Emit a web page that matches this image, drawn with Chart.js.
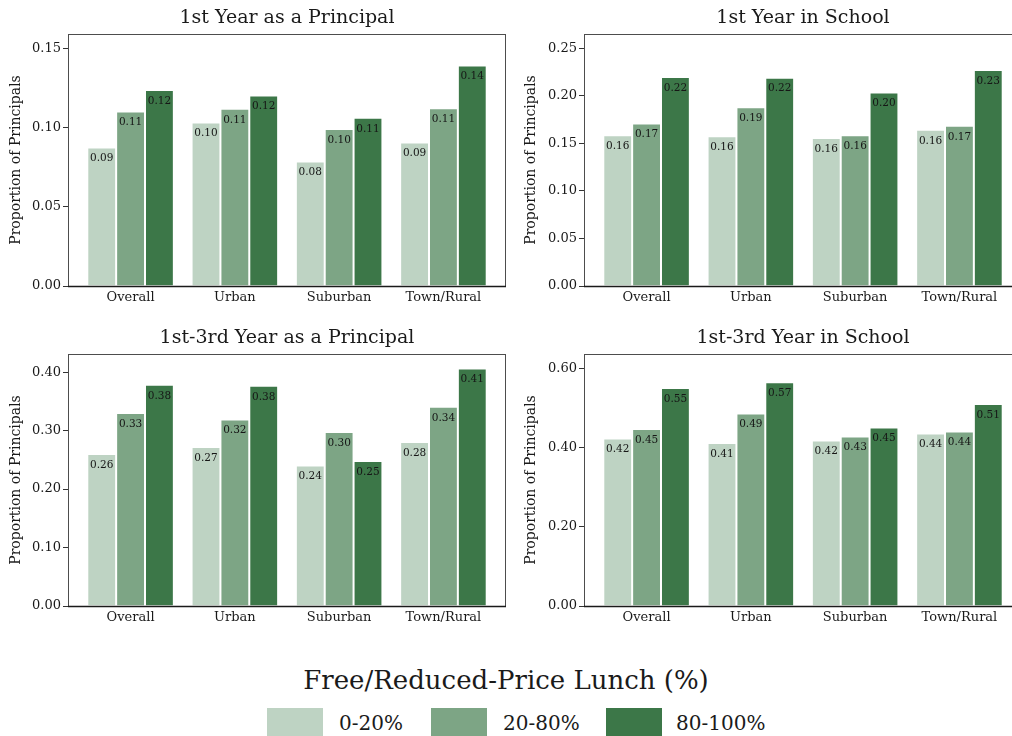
<!DOCTYPE html>
<html>
<head>
<meta charset="utf-8">
<script src="https://cdn.jsdelivr.net/npm/chart.js@4/dist/chart.umd.min.js"></script>
<style>
  html, body { margin: 0; padding: 0; background: #ffffff; }
  body { width: 1012px; height: 736px; overflow: hidden; position: relative;
         font-family: "DejaVu Serif", serif; color: #1a1a1a; }
  canvas { position: absolute; }
  #legendTitle { position: absolute; left: 0; top: 667px; width: 1012px; text-align: center;
                 font-size: 26px; line-height: 26px; white-space: nowrap; }
  .swatch { position: absolute; top: 708px; width: 56px; height: 30px; }
  .swatchLabel { position: absolute; top: 713px; font-size: 20px; line-height: 20px; white-space: nowrap; }
</style>
</head>
<body>
<canvas id="c0" width="507" height="320" style="left:0;top:0"></canvas>
<canvas id="c1" width="512" height="320" style="left:510px;top:0"></canvas>
<canvas id="c2" width="507" height="320" style="left:0;top:320px"></canvas>
<canvas id="c3" width="512" height="320" style="left:510px;top:320px"></canvas>
<div id="legendTitle">Free/Reduced-Price Lunch (%)</div>
<div id="legend"></div>

<script>
// Community types along the x axis and the three lunch-eligibility bands
const categories = ['Overall', 'Urban', 'Suburban', 'Town/Rural'];
const bandLabels = ['0-20%', '20-80%', '80-100%'];
const bandColors = ['#bed3c3', '#7da585', '#3c7748'];

const panelTitles = [
  '1st Year as a Principal',
  '1st Year in School',
  '1st-3rd Year as a Principal',
  '1st-3rd Year in School'
];

// 1st year as a principal
const firstYearPrincipalLow  = [0.0874, 0.1032, 0.0786, 0.0906];
const firstYearPrincipalMid  = [0.1101, 0.1118, 0.0990, 0.1122];
const firstYearPrincipalHigh = [0.1236, 0.1202, 0.1061, 0.1391];

// 1st year in school
const firstYearSchoolLow  = [0.1586, 0.1576, 0.1556, 0.1642];
const firstYearSchoolMid  = [0.1710, 0.1880, 0.1586, 0.1684];
const firstYearSchoolHigh = [0.2199, 0.2191, 0.2034, 0.2272];

// 1st-3rd year as a principal
const earlyPrincipalLow  = [0.2598, 0.2718, 0.2402, 0.2803];
const earlyPrincipalMid  = [0.3299, 0.3191, 0.2974, 0.3407];
const earlyPrincipalHigh = [0.3783, 0.3766, 0.2479, 0.4063];

// 1st-3rd year in school
const earlySchoolLow  = [0.4232, 0.4123, 0.4182, 0.4358];
const earlySchoolMid  = [0.4476, 0.4863, 0.4283, 0.4409];
const earlySchoolHigh = [0.5511, 0.5654, 0.4510, 0.5107];

// Value-axis ranges and tick marks for each panel
const yMax = [0.159, 0.265, 0.431, 0.637];
const yTicks = [
  [0, 0.05, 0.10, 0.15],
  [0, 0.05, 0.10, 0.15, 0.20, 0.25],
  [0, 0.10, 0.20, 0.30, 0.40],
  [0, 0.20, 0.40, 0.60]
];

const panelSeries = [
  [firstYearPrincipalLow, firstYearPrincipalMid, firstYearPrincipalHigh],
  [firstYearSchoolLow, firstYearSchoolMid, firstYearSchoolHigh],
  [earlyPrincipalLow, earlyPrincipalMid, earlyPrincipalHigh],
  [earlySchoolLow, earlySchoolMid, earlySchoolHigh]
];

const FONT = '"DejaVu Serif", serif';
const INK = '#1a1a1a';

// Value printed just inside the top of every bar
const barValueLabels = {
  id: 'barValueLabels',
  afterDatasetsDraw(chart) {
    const ctx = chart.ctx;
    ctx.save();
    ctx.font = '10.5px ' + FONT;
    ctx.fillStyle = '#161616';
    ctx.textAlign = 'center';
    ctx.textBaseline = 'middle';
    chart.data.datasets.forEach((ds, di) => {
      chart.getDatasetMeta(di).data.forEach((bar, i) => {
        ctx.fillText(ds.data[i].y.toFixed(2), bar.x, bar.y + 11);
      });
    });
    ctx.restore();
  }
};

// Box around the plotting area, with a darker base line
const panelFrame = {
  id: 'panelFrame',
  afterDraw(chart) {
    const a = chart.chartArea;
    const ctx = chart.ctx;
    ctx.save();
    ctx.strokeStyle = '#4d4d4d';
    ctx.lineWidth = 1;
    ctx.strokeRect(a.left + 0.5, a.top + 0.5, a.right - a.left - 1, a.bottom - a.top);
    ctx.strokeStyle = '#1a1a1a';
    ctx.lineWidth = 1.4;
    ctx.beginPath();
    ctx.moveTo(a.left, a.bottom + 0.5);
    ctx.lineTo(a.right, a.bottom + 0.5);
    ctx.stroke();
    ctx.restore();
  }
};

function buildPanel(idx) {
  const isRight = idx % 2 === 1;
  const datasets = panelSeries[idx].map((vals, s) => ({
    label: bandLabels[s],
    data: vals.map((v, i) => ({ x: i + 1, y: v })),
    backgroundColor: bandColors[s],
    borderColor: '#ffffff',
    borderWidth: 1,
    borderSkipped: 'bottom',
    categoryPercentage: 0.83,
    barPercentage: 1.0
  }));

  new Chart(document.getElementById('c' + idx), {
    type: 'bar',
    data: { datasets },
    plugins: [barValueLabels, panelFrame],
    options: {
      responsive: false,
      animation: false,
      layout: { padding: { left: 0, right: isRight ? 0 : 1, top: 0, bottom: 0 } },
      plugins: { legend: { display: false }, tooltip: { enabled: false }, title: { display: false } },
      scales: {
        x: {
          type: 'linear',
          position: 'bottom',
          min: 0.4,
          max: 4.6,
          offset: false,
          grid: { display: false, drawTicks: false, offset: false },
          border: { display: false },
          afterBuildTicks: s => { s.ticks = categories.map((_, i) => ({ value: i + 1 })); },
          afterFit: s => { s.height = 34; },
          ticks: {
            padding: 4,
            color: INK,
            font: { family: FONT, size: 13 },
            maxRotation: 0,
            autoSkip: false,
            callback: v => categories[Math.round(v) - 1] || ''
          }
        },
        top: {
          type: 'linear',
          position: 'top',
          min: 0,
          max: 1,
          grid: { display: false, drawTicks: false },
          border: { display: false },
          ticks: { display: false },
          afterFit: s => { s.height = 34; },
          title: {
            display: true,
            text: panelTitles[idx],
            color: INK,
            font: { family: FONT, size: 19 },
            padding: { top: 7, bottom: 0 }
          }
        },
        y: {
          type: 'linear',
          min: 0,
          max: yMax[idx],
          afterBuildTicks: s => { s.ticks = yTicks[idx].map(v => ({ value: v })); },
          afterFit: s => { s.width = isRight ? 74 : 68; },
          grid: { display: true, drawOnChartArea: false, drawTicks: true, tickLength: 5,
                  tickColor: '#333333', tickWidth: 1 },
          border: { display: false },
          ticks: {
            padding: 2,
            color: INK,
            font: { family: FONT, size: 13 },
            callback: v => Number(v).toFixed(2)
          },
          title: {
            display: true,
            text: 'Proportion of Principals',
            color: INK,
            font: { family: FONT, size: 14 },
            padding: { top: isRight ? 13 : 8, bottom: 0 }
          }
        }
      }
    }
  });
}

for (let i = 0; i < 4; i++) buildPanel(i);

// Legend keys beneath the panels
const swatchLeft = [267, 431, 606];
const labelLeft = [339, 503, 676];
const legend = document.getElementById('legend');
bandLabels.forEach((lab, i) => {
  const sw = document.createElement('div');
  sw.className = 'swatch';
  sw.style.left = swatchLeft[i] + 'px';
  sw.style.background = bandColors[i];
  legend.appendChild(sw);
  const tx = document.createElement('div');
  tx.className = 'swatchLabel';
  tx.style.left = labelLeft[i] + 'px';
  tx.textContent = lab;
  legend.appendChild(tx);
});
</script>
</body>
</html>
